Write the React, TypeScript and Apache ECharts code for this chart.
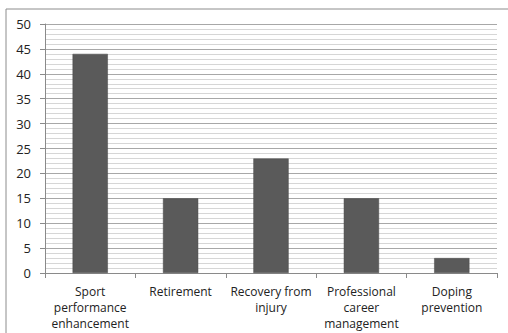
import React, { useEffect, useRef } from "react";
import * as echarts from "echarts";

const categories = [
  "Sport\nperformance\nenhancement",
  "Retirement",
  "Recovery from\ninjury",
  "Professional\ncareer\nmanagement",
  "Doping\nprevention",
];
const values = [44, 15, 23, 15, 3];
const yMin = 0;
const yMax = 50;
const yInterval = 5;

export default function App() {
  const ref = useRef<HTMLDivElement>(null);
  useEffect(() => {
    if (!ref.current) return;
    const chart = echarts.init(ref.current, null, { renderer: "svg" });
    chart.setOption({
      animation: false,
      backgroundColor: "#ffffff",
      textStyle: { fontFamily: "Open Sans" },
      graphic: [
        {
          type: "rect",
          shape: { x: 6, y: 9, width: 520, height: 340 },
          style: { fill: "none", stroke: "#8c8c8c", lineWidth: 1 },
          silent: true,
        },
      ],
      grid: { left: 45, right: 11, top: 24, bottom: 60, containLabel: false },
      xAxis: {
        type: "category",
        data: categories,
        axisLine: { show: true, lineStyle: { color: "#8a8a8a", width: 1 } },
        axisTick: { show: true, length: 5, lineStyle: { color: "#8a8a8a" } },
        axisLabel: {
          color: "#222",
          fontSize: 12,
          lineHeight: 16,
          margin: 10,
          interval: 0,
          fontFamily: "Open Sans",
        },
        splitLine: { show: false },
      },
      yAxis: {
        type: "value",
        min: yMin,
        max: yMax,
        interval: yInterval,
        axisLine: { show: true, lineStyle: { color: "#8a8a8a", width: 1 } },
        axisTick: { show: true, length: 5, lineStyle: { color: "#8a8a8a" } },
        axisLabel: { color: "#222", fontSize: 13, margin: 14, fontFamily: "Open Sans" },
        splitLine: { show: true, lineStyle: { color: "#a8a8a8", width: 1 } },
        minorTick: { show: false, splitNumber: 5 },
        minorSplitLine: { show: true, lineStyle: { color: "#d6d6d6", width: 1 } },
      },
      series: [
        {
          type: "bar",
          data: values,
          barWidth: "39%",
          itemStyle: { color: "#5a5a5a", borderColor: "#4a4a4a", borderWidth: 0.5 },
        },
      ],
    });
    return () => chart.dispose();
  }, []);
  return (
    <div
      ref={ref}
      style={{ position: "fixed", left: 0, top: 0, width: 508, height: 333 }}
    />
  );
}
